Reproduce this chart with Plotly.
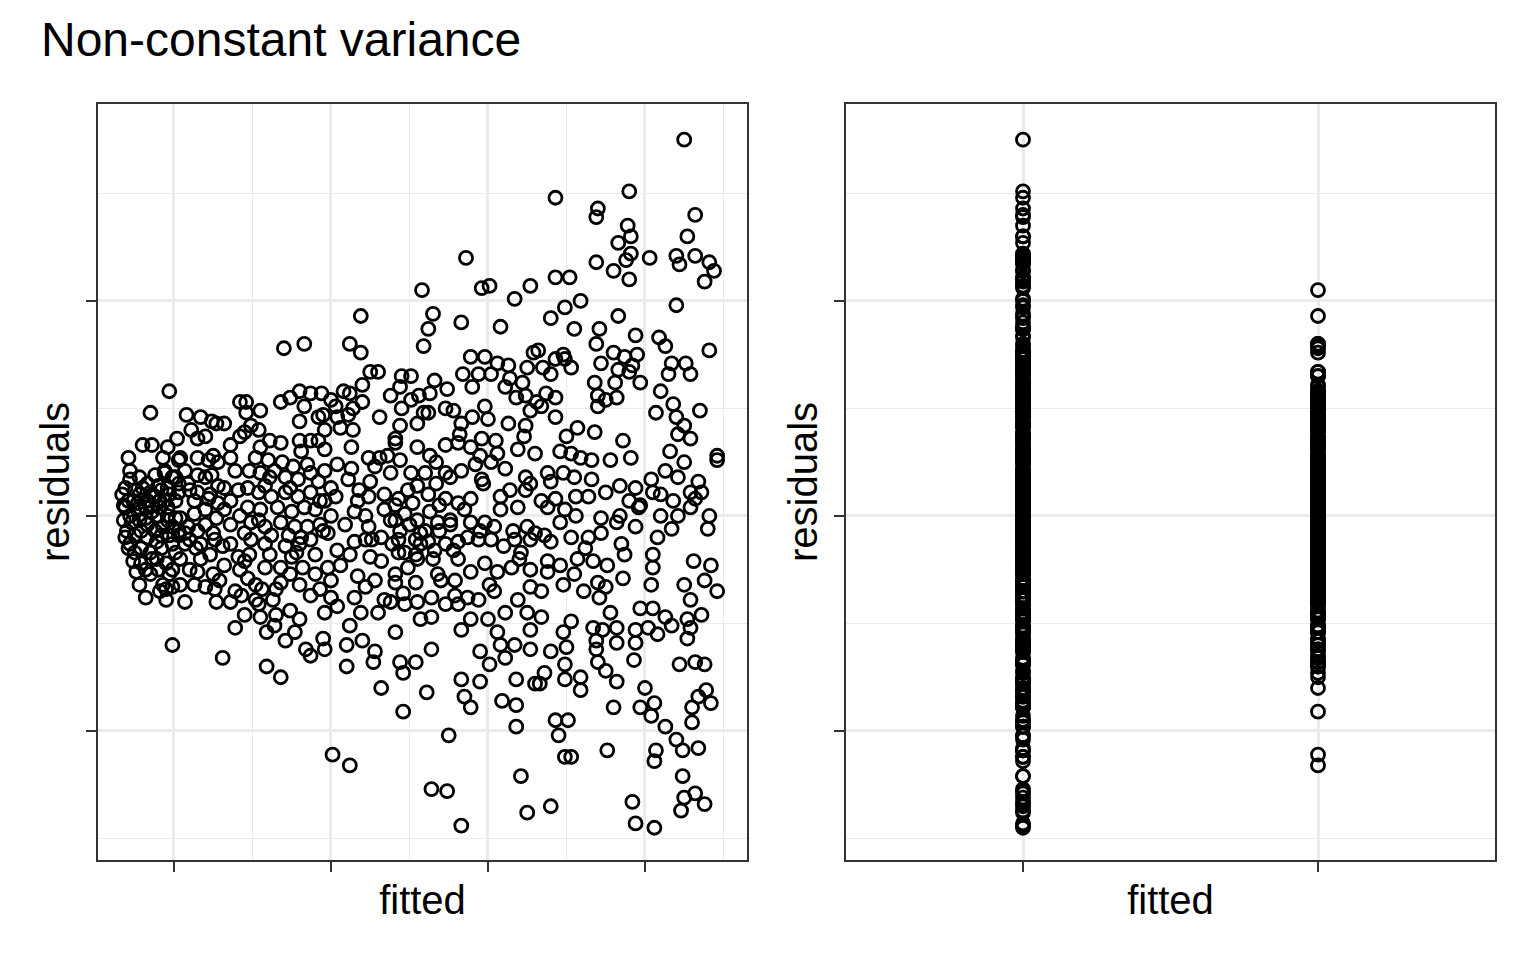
import numpy as np
import plotly.graph_objects as go
from plotly.subplots import make_subplots

# ============================================================================
# Data (grouped by region of the left panel)
# ============================================================================

# far left cluster
fit_a = [-0.15, -0.03, -0.29, -0.20, -0.14, 0.02, -0.31, -0.28, -0.22, -0.17,
         -0.12, -0.06, -0.01, 0.03, -0.31, -0.26, -0.22, -0.17, -0.12, -0.08,
         -0.03, 0.01, -0.32, -0.28, -0.23, -0.18, -0.14, -0.09, -0.04, 0.01,
         -0.30, -0.25, -0.21, -0.17, -0.12, -0.07, -0.03, 0.03, -0.31, -0.28,
         -0.21, -0.15, -0.11, -0.08, -0.01, -0.26, -0.21, -0.11, -0.05, 0.01,
         -0.01, -0.03, -0.22, -0.09, -0.07, -0.05, -0.01, -0.05, -0.01, -0.15,
         -0.18]
res_a = [0.48, 0.58, 0.27, 0.33, 0.33, 0.36, 0.13, 0.17, 0.18, 0.15,
         0.19, 0.21, 0.18, 0.15, 0.04, 0.07, 0.10, 0.07, 0.09, 0.12,
         0.10, 0.07, -0.02, 0.00, 0.03, -0.01, 0.02, 0.04, 0.00, -0.01,
         -0.07, -0.09, -0.07, -0.10, -0.07, -0.05, -0.09, -0.07, -0.10, -0.13,
         -0.15, -0.17, -0.12, -0.15, -0.13, -0.21, -0.22, -0.20, -0.22, -0.17,
         -0.25, -0.27, -0.32, -0.35, -0.32, -0.34, -0.33, -0.39, -0.60, -0.27,
         -0.38]

# fitted 0 to 0.45
fit_b = [0.11, 0.17, 0.15, 0.20, 0.27, 0.32, 0.36, -0.04, 0.08, 0.24,
         -0.07, 0.03, 0.04, 0.15, 0.22, 0.25, 0.28, 0.36, 0.24, 0.15,
         0.09, 0.01, -0.06, -0.04, 0.03, 0.15, 0.20, 0.13, 0.04, -0.04,
         -0.09, 0.22, 0.28, 0.27, 0.36, 0.25, 0.15, 0.07, -0.01, 0.36,
         0.32, 0.09, 0.14, 0.15, 0.13, 0.20, 0.27, 0.25, 0.29, 0.31,
         0.39, 0.36, 0.43, 0.39, 0.31, 0.41, 0.04, 0.03, 0.07, 0.07,
         0.17, 0.23, 0.26, 0.32, 0.10, 0.20]
res_b = [0.40, 0.46, 0.36, 0.37, 0.43, 0.43, 0.33, 0.32, 0.47, 0.44,
         0.27, 0.26, 0.27, 0.27, 0.26, 0.28, 0.25, 0.27, 0.19, 0.19,
         0.15, 0.18, 0.20, 0.13, 0.11, 0.11, 0.03, 0.01, -0.01, 0.04,
         0.07, 0.08, 0.06, -0.01, -0.04, -0.08, -0.07, -0.08, -0.05, 0.07,
         0.13, -0.05, -0.15, -0.26, -0.32, -0.33, -0.40, -0.27, -0.30, -0.14,
         -0.35, -0.40, -0.37, -0.52, -0.66, -0.19, -0.20, -0.09, -0.40, -0.13,
         -0.20, -0.18, -0.11, -0.23, -0.25, -0.04]

# fitted 0.4 to 0.95
fit_c = [0.42, 0.46, 0.46, 0.55, 0.49, 0.54, 0.45, 0.55, 0.68, 0.68,
         0.74, 0.80, 0.87, 0.80, 0.83, 0.81, 0.87, 0.92, 0.52, 0.60,
         0.69, 0.76, 0.85, 0.48, 0.55, 0.61, 0.71, 0.79, 0.87, 0.47,
         0.54, 0.62, 0.71, 0.79, 0.87, 0.47, 0.55, 0.66, 0.75, 0.83,
         0.90, 0.49, 0.58, 0.68, 0.77, 0.85, 0.45, 0.62, 0.81, 0.45,
         0.47, 0.52, 0.58, 0.54, 0.55, 0.59, 0.64, 0.65, 0.63, 0.65,
         0.68, 0.68, 0.77, 0.82, 0.84, 0.87, 0.87, 0.59, 0.68, 0.75,
         0.71, 0.78, 0.87, 0.58, 0.49, 0.80, 0.90, 0.48, 0.61, 0.74,
         0.80, 0.90, 0.70, 0.83, 0.42]
res_c = [0.53, 0.53, 0.48, 0.49, 0.42, 0.40, 0.39, 0.32, 0.34, 0.53,
         0.55, 0.58, 0.57, 0.44, 0.51, 0.30, 0.35, 0.46, 0.27, 0.26,
         0.25, 0.23, 0.24, 0.21, 0.20, 0.18, 0.18, 0.17, 0.20, 0.13,
         0.11, 0.09, 0.11, 0.09, 0.11, 0.04, 0.03, 0.04, 0.02, 0.04,
         0.03, -0.03, -0.05, -0.03, -0.05, -0.05, -0.08, -0.09, -0.10, -0.21,
         -0.29, -0.32, -0.24, -0.41, -0.47, -0.54, -0.51, -0.46, -0.39, -0.34,
         -0.31, -0.24, -0.54, -0.24, -0.62, -0.65, -0.37, -0.70, -0.75, -0.19,
         -0.14, -0.17, -0.11, -0.13, -0.11, -0.13, -0.18, -0.18, -0.18, -0.27,
         -0.32, -0.27, 0.78, 0.80, 0.37]

# middle, upper part
fit_d = [1.19, 1.12, 1.19, 1.25, 1.30, 1.20, 1.08, 1.12, 0.94, 1.00,
         1.03, 1.14, 0.95, 1.04, 1.11, 1.06, 1.14, 1.31, 1.38, 1.45,
         1.51, 1.44, 1.51, 1.44, 1.41, 1.55, 1.66, 1.63, 1.62, 1.73,
         1.78, 1.73, 1.82, 1.90, 1.98, 2.00, 1.90, 1.94, 1.84, 1.89,
         1.98, 2.06, 2.13, 2.11, 2.25, 2.29, 2.24, 2.27, 2.13, 2.24,
         2.23, 1.96, 1.58, 1.65, 1.62, 1.59, 1.86, 1.96, 2.01, 2.17,
         2.27, 1.83, 2.08, 1.74, 1.56, 2.02, 2.14, 2.22, 2.18, 2.31,
         1.20, 1.45, 1.59, 1.83, 2.05]
res_d = [0.93, 0.80, 0.76, 0.67, 0.67, 0.61, 0.58, 0.57, 0.57, 0.54,
         0.51, 0.50, 0.47, 0.46, 0.47, 0.41, 0.40, 0.46, 0.56, 0.65,
         0.65, 0.60, 0.54, 0.42, 0.36, 0.43, 0.63, 0.57, 0.48, 0.50,
         0.49, 0.33, 0.38, 0.46, 0.51, 0.45, 0.60, 0.66, 0.66, 0.74,
         0.74, 0.71, 0.70, 0.60, 0.69, 0.76, 0.56, 0.49, 0.43, 0.42,
         0.37, 0.36, 1.05, 0.94, 0.87, 0.79, 1.20, 1.06, 1.07, 1.01,
         1.07, 0.90, 0.88, 0.59, 0.56, 0.66, 0.64, 0.62, 0.55, 0.53,
         0.53, 0.50, 0.48, 0.43, 0.35]

# middle, dense core
fit_e = [0.96, 1.13, 1.24, 1.31, 1.36, 1.41, 1.55, 1.81, 1.89, 2.06,
         2.19, 2.30, 0.96, 1.04, 1.13, 1.28, 1.38, 1.51, 1.60, 1.67,
         1.73, 1.83, 1.92, 2.02, 2.11, 2.24, 1.96, 1.76, 1.00, 1.03,
         0.96, 1.17, 1.24, 1.34, 1.25, 1.43, 1.49, 1.55, 1.62, 1.67,
         1.73, 1.81, 1.89, 1.97, 2.08, 2.19, 2.24, 2.27, 1.00, 0.95,
         1.15, 1.22, 1.24, 1.41, 1.47, 1.55, 1.63, 1.68, 1.76, 1.89,
         1.98, 2.04, 2.16, 2.25, 2.30, 0.98, 1.04, 1.15, 1.22, 1.32,
         1.43, 1.54, 1.57, 1.62, 1.66, 1.73, 1.81, 1.87, 1.94, 2.02,
         2.10, 2.17, 2.21, 2.27, 1.06, 0.98, 1.25, 1.32, 1.43, 1.49,
         1.55, 1.65, 1.68, 1.81, 1.89, 1.98, 2.06, 2.15, 2.27, 1.41,
         1.00, 1.17, 1.22, 1.41, 1.46, 1.54, 1.64, 1.70, 1.79, 1.87,
         1.94, 2.04, 2.27, 1.15, 1.00, 1.04, 0.96, 1.19, 1.30, 1.38,
         1.47, 1.55, 1.64, 1.73, 1.81, 1.89, 2.00, 2.11, 2.19, 2.25,
         1.41, 1.83, 2.06, 2.27]
res_e = [0.31, 0.32, 0.27, 0.27, 0.28, 0.34, 0.32, 0.34, 0.32, 0.29,
         0.31, 0.29, 0.21, 0.24, 0.22, 0.23, 0.20, 0.20, 0.20, 0.25,
         0.20, 0.21, 0.24, 0.25, 0.22, 0.18, 0.17, 0.18, 0.13, 0.09,
         0.07, 0.07, 0.09, 0.10, 0.16, 0.08, 0.12, 0.14, 0.10, 0.15,
         0.08, 0.06, 0.08, 0.15, 0.09, 0.04, 0.12, 0.15, 0.00, -0.07,
         0.02, 0.00, -0.05, -0.02, 0.01, -0.02, 0.02, -0.03, -0.04, -0.03,
         -0.03, -0.05, -0.07, -0.05, -0.08, -0.08, -0.16, -0.12, -0.11, -0.10,
         -0.11, -0.11, -0.08, -0.12, -0.16, -0.13, -0.12, -0.10, -0.11, -0.11,
         -0.14, -0.11, -0.17, -0.11, -0.23, -0.24, -0.19, -0.21, -0.17, -0.24,
         -0.20, -0.20, -0.27, -0.20, -0.26, -0.22, -0.26, -0.24, -0.25, -0.27,
         -0.30, -0.28, -0.33, -0.31, -0.36, -0.31, -0.38, -0.30, -0.30, -0.38,
         -0.39, -0.35, -0.33, -0.38, -0.38, -0.42, -0.45, -0.45, -0.45, -0.40,
         -0.41, -0.40, -0.47, -0.41, -0.41, -0.48, -0.48, -0.45, -0.39, -0.45,
         -0.54, -0.53, -0.54, -0.53]

# middle, lower tail
fit_f = [0.95, 1.10, 1.20, 1.28, 1.27, 1.10, 1.44, 1.46, 1.54, 1.64,
         1.32, 1.46, 1.61, 1.83, 1.85, 1.89, 1.95, 1.95, 2.01, 2.08,
         2.11, 2.17, 2.27, 2.18, 2.09, 2.18, 2.18, 2.30, 1.75, 1.01,
         1.12, 1.64, 1.74, 1.83, 2.21, 2.25]
res_f = [-0.57, -0.60, -0.58, -0.63, -0.68, -0.70, -0.68, -0.73, -0.68, -0.62,
         -0.80, -0.91, -0.82, -0.76, -0.84, -0.89, -0.77, -0.63, -0.69, -0.60,
         -0.66, -0.60, -0.62, -0.76, -0.86, -0.88, -0.98, -0.78, -1.02, -1.11,
         -1.16, -1.27, -1.28, -1.44, -1.21, -1.38]

# right, upper tail
fit_g = [3.25, 2.43, 2.90, 2.70, 2.69, 2.89, 2.91, 2.83, 3.32, 3.27,
         2.91, 2.88, 3.03, 2.69, 2.80, 2.90, 3.20, 3.22, 3.32, 3.41,
         3.44, 3.38, 2.43, 2.52, 3.20, 2.59, 2.49, 2.40, 2.55, 2.83,
         2.71, 2.69, 2.94, 3.09, 3.13, 3.41, 2.32, 2.48, 2.80, 2.95]
res_g = [1.75, 1.48, 1.51, 1.43, 1.39, 1.35, 1.30, 1.27, 1.40, 1.30,
         1.22, 1.19, 1.20, 1.18, 1.14, 1.10, 1.21, 1.17, 1.21, 1.18,
         1.14, 1.09, 1.11, 1.11, 0.98, 1.00, 0.97, 0.92, 0.87, 0.93,
         0.87, 0.80, 0.84, 0.83, 0.79, 0.77, 0.77, 0.75, 0.76, 0.75]

# right, middle band
fit_h = [2.87, 2.92, 2.83, 2.90, 2.97, 2.72, 2.68, 2.81, 2.70, 2.75,
         2.82, 2.70, 3.17, 3.26, 3.15, 3.29, 3.10, 3.18, 3.07, 3.20,
         3.25, 3.21, 3.29, 3.35, 3.16, 3.46, 3.46, 3.25, 3.13, 3.21,
         3.34, 3.29, 3.36, 3.29, 3.41, 3.40, 3.31, 3.42, 3.18, 3.21,
         3.17, 3.10, 3.04, 3.05, 2.97, 3.05, 3.08, 2.94, 2.86, 2.91,
         2.78, 2.68, 2.57, 2.50, 2.53, 2.46, 2.59, 2.66, 2.43, 2.43,
         2.37, 2.34, 2.43, 2.49, 2.53, 2.40, 2.35, 2.84, 2.94, 2.90,
         2.84, 2.96, 2.82, 2.72, 2.75, 2.64, 2.56, 2.66, 2.55, 2.48,
         2.38, 2.40, 2.34, 2.43, 2.38, 2.49, 2.56, 2.46, 2.36, 2.40,
         2.53, 2.64, 2.72, 2.85, 2.87, 2.62, 2.67, 2.76, 2.57, 2.46,
         2.38, 3.10, 3.32]
res_h = [0.74, 0.70, 0.68, 0.67, 0.62, 0.71, 0.62, 0.62, 0.56, 0.54,
         0.55, 0.51, 0.71, 0.71, 0.66, 0.66, 0.58, 0.52, 0.48, 0.46,
         0.42, 0.38, 0.36, 0.49, 0.30, 0.28, 0.26, 0.25, 0.21, 0.18,
         0.16, 0.11, 0.11, 0.04, 0.00, -0.06, -0.21, -0.23, 0.07, 0.00,
         -0.06, 0.00, 0.17, 0.11, 0.05, -0.18, -0.10, -0.05, 0.35, 0.27,
         0.26, 0.39, 0.41, 0.37, 0.29, 0.30, 0.27, 0.26, 0.46, 0.55,
         0.57, 0.51, 0.73, 0.73, 0.69, 0.66, 0.69, 0.14, 0.13, 0.07,
         0.00, 0.04, -0.03, -0.01, 0.11, 0.09, 0.09, 0.17, 0.18, 0.20,
         0.20, 0.16, 0.07, 0.08, 0.04, 0.03, 0.00, -0.03, -0.09, -0.12,
         -0.10, -0.10, -0.08, -0.13, -0.18, -0.15, -0.21, -0.23, -0.20, -0.23,
         -0.21, 0.10, 0.08]

# right, lower tail
fit_i = [2.38, 2.55, 2.48, 2.61, 2.70, 2.75, 2.86, 2.71, 2.78, 2.34,
         2.34, 2.48, 2.53, 2.67, 2.73, 2.82, 2.94, 3.02, 2.69, 2.69,
         2.82, 2.94, 2.93, 2.70, 2.75, 2.82, 2.40, 2.50, 2.36, 2.49,
         2.49, 2.59, 2.59, 2.33, 2.80, 2.43, 2.51, 2.45, 2.49, 2.53,
         2.76, 2.40, 2.92, 2.94, 3.06, 3.00, 2.97, 3.06, 3.04, 3.13,
         3.20, 3.24, 3.34, 3.07, 3.06, 3.24, 3.25, 3.32, 3.38, 3.23,
         3.30, 3.30, 3.34, 3.39, 3.42, 3.22, 3.32, 3.38, 2.97, 3.05,
         3.13, 3.17, 3.27, 3.29, 3.36, 3.27, 3.08, 3.25, 3.29, 3.38,
         3.46, 3.04, 3.05]
res_i = [-0.26, -0.27, -0.32, -0.35, -0.31, -0.33, -0.29, -0.38, -0.45, -0.35,
         -0.47, -0.54, -0.49, -0.52, -0.53, -0.52, -0.53, -0.52, -0.58, -0.62,
         -0.59, -0.59, -0.67, -0.68, -0.72, -0.77, -0.63, -0.61, -0.73, -0.69,
         -0.76, -0.75, -0.81, -0.78, -0.89, -0.95, -0.95, -1.02, -1.12, -1.12,
         -1.09, -1.35, -1.33, -1.43, -1.45, -0.80, -0.89, -0.87, -0.93, -0.98,
         -1.04, -1.09, -1.08, -1.09, -1.14, -1.21, -1.31, -1.29, -1.34, -1.37,
         -0.96, -0.89, -0.84, -0.81, -0.87, -0.69, -0.68, -0.69, -0.43, -0.43,
         -0.47, -0.51, -0.57, -0.52, -0.46, -0.48, -0.55, -0.32, -0.39, -0.30,
         -0.35, -0.32, -0.24]

# extra points in the dense left blob
fit_j = [-0.33, -0.29, -0.25, -0.23, -0.20, -0.18, -0.15, -0.14, -0.10, -0.10,
         -0.06, -0.04, -0.27, -0.22, -0.17, -0.29, -0.25, -0.24, -0.18, -0.14,
         -0.10, -0.08, 0.07, 0.10, 0.13, 0.20, 0.23, 0.28, 0.32, 0.39,
         0.41, 0.42, 0.10, 0.17, 0.36, 0.42, 0.04, 0.26, -0.32, -0.28]
res_j = [0.10, 0.07, 0.12, 0.06, 0.13, 0.04, 0.11, 0.05, 0.14, 0.00,
         0.07, -0.02, -0.03, -0.02, -0.04, -0.15, -0.17, -0.26, -0.25, -0.20,
         -0.25, -0.09, 0.21, 0.12, 0.07, 0.18, 0.10, 0.14, 0.03, 0.21,
         0.12, 0.00, -0.11, -0.13, -0.13, -0.25, -0.32, -0.34, 0.05, 0.21]

# extra points in the dense middle core
fit_k = [1.38, 1.44, 1.50, 1.57, 1.60, 1.39, 1.47, 1.54, 1.69, 1.76,
         1.34, 1.41, 1.52, 1.69, 1.85, 1.95, 1.78, 1.11, 1.18, 1.09,
         1.12, 1.26, 1.28, 1.34, 2.08, 2.14, 2.20, 2.01, 1.79, 1.57,
         1.12, 1.95, 1.63, 1.44]
res_k = [-0.02, -0.07, -0.04, -0.13, -0.07, -0.13, -0.17, -0.18, -0.07, -0.02,
         0.03, 0.05, 0.06, 0.05, 0.03, -0.07, -0.16, 0.17, 0.12, -0.04,
         -0.18, -0.11, -0.30, -0.39, 0.03, 0.12, -0.20, -0.32, -0.37, -0.48,
         -0.51, 0.28, 0.28, 0.26]

# extra points between the left blob and the middle
fit_l = [0.58, 0.64, 0.74, 0.92, 0.93, 0.54, 0.73, 0.93, 0.52, 0.74,
         0.93, 0.71, 0.96, 0.80, 0.56, 0.45, 0.92, 0.61, 0.80, 0.96]
res_l = [0.14, 0.21, 0.13, 0.16, 0.07, -0.02, -0.09, -0.04, -0.39, -0.44,
         -0.34, -0.58, -0.62, -0.48, -0.34, -0.46, 0.35, 0.35, 0.35, 0.40]

fit_parts = [fit_a, fit_b, fit_c, fit_d, fit_e, fit_f, fit_g, fit_h, fit_i,
             fit_j, fit_k, fit_l]
res_parts = [res_a, res_b, res_c, res_d, res_e, res_f, res_g, res_h, res_i,
             res_j, res_k, res_l]
for f_part, r_part in zip(fit_parts, res_parts):
    assert len(f_part) == len(r_part), (len(f_part), len(r_part))

fitted = np.concatenate(fit_parts)
residuals = np.concatenate(res_parts)

# right panel: fitted values collapsed into two groups
split_value = 1.6
group_labels = ['high', 'low']
groups = np.where(fitted < split_value, group_labels[1], group_labels[0])

x_ticks = [0, 1, 2, 3]
x_minor = [-0.5, 0.5, 1.5, 2.5, 3.5]
y_ticks = [-1, 0, 1]
y_minor = [-1.5, -0.5, 0.5, 1.5]
x_range = [-0.484, 3.65]
y_range = [-1.60, 1.916]

# ============================================================================
# Plot Creation
# ============================================================================

FONT = 'Liberation Sans, Arial, Helvetica, sans-serif'
GRID = '#EBEBEB'
DARK = '#333333'

marker_style = dict(symbol='circle-open', size=13, color='black',
                    line=dict(width=2.8, color='black'))

fig = make_subplots(rows=1, cols=2)

fig.add_trace(go.Scatter(x=fitted, y=residuals, mode='markers',
                         marker=marker_style, showlegend=False,
                         hoverinfo='skip'), row=1, col=1)
fig.add_trace(go.Scatter(x=groups, y=residuals, mode='markers',
                         marker=marker_style, showlegend=False,
                         hoverinfo='skip'), row=1, col=2)

axis_style = dict(
    showline=True, linecolor=DARK, linewidth=1.6, mirror=True,
    ticks='outside', ticklen=10, tickwidth=2, tickcolor=DARK,
    showticklabels=False, showgrid=True, gridcolor=GRID, gridwidth=2.6,
    zeroline=False,
)

# the page has an 8px body margin, so panel edges are placed 8px earlier
y_domain = [1 - 852 / 960, 1 - 96 / 960]
x_title = dict(text='fitted', font=dict(size=40), standoff=15)
y_title = dict(text='residuals', font=dict(size=40), standoff=4)

fig.update_layout(
    width=1536, height=960,
    margin=dict(l=0, r=0, t=0, b=0),
    paper_bgcolor='white', plot_bgcolor='white',
    font=dict(family=FONT, color='black'),
    hovermode=False,
    xaxis=dict(axis_style, domain=[90 / 1536, 739 / 1536],
               range=x_range, tickvals=x_ticks,
               minor=dict(tickvals=x_minor, showgrid=True, gridcolor=GRID,
                          gridwidth=1.4, ticks=''),
               title=x_title),
    yaxis=dict(axis_style, domain=y_domain, range=y_range, tickvals=y_ticks,
               minor=dict(tickvals=y_minor, showgrid=True, gridcolor=GRID,
                          gridwidth=1.4, ticks=''),
               title=y_title),
    xaxis2=dict(axis_style, domain=[838 / 1536, 1487 / 1536],
                type='category', categoryorder='array',
                categoryarray=group_labels, range=[-0.6, 1.6],
                title=x_title),
    yaxis2=dict(axis_style, domain=y_domain, range=y_range, tickvals=y_ticks,
                minor=dict(tickvals=y_minor, showgrid=True, gridcolor=GRID,
                           gridwidth=1.4, ticks=''),
                title=y_title),
)

fig.add_annotation(text='Non-constant variance', xref='paper', yref='paper',
                   x=31 / 1536, y=1 - 31 / 960, xanchor='left',
                   yanchor='middle', showarrow=False,
                   font=dict(size=48, color='black', family=FONT))

fig.write_html('out.html')
